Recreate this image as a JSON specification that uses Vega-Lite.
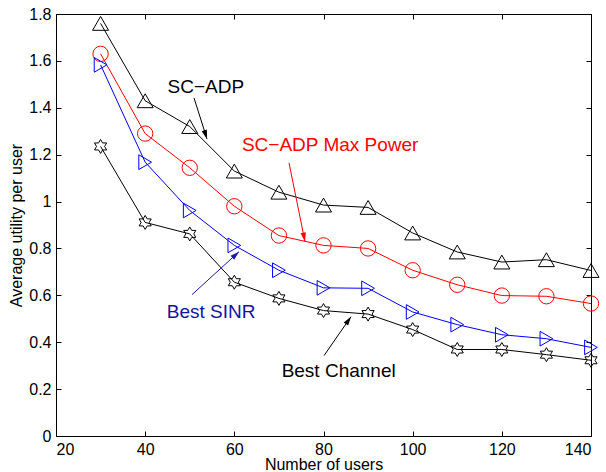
{
  "$schema": "https://vega.github.io/schema/vega-lite/v6.json",
  "width": 535,
  "height": 422,
  "autosize": "none",
  "padding": {"left": 56, "top": 14, "right": 15, "bottom": 36},
  "background": "white",
  "config": {
    "view": {"stroke": null},
    "font": "Liberation Sans",
    "axis": {
      "domainColor": "black",
      "domainWidth": 1,
      "tickColor": "black",
      "tickWidth": 1,
      "tickSize": -5,
      "labelFont": "Liberation Sans",
      "labelFontSize": 16,
      "labelColor": "black",
      "titleFont": "Liberation Sans",
      "titleFontSize": 16,
      "titleFontWeight": "normal",
      "titleColor": "black",
      "grid": false
    }
  },
  "datasets": {
    "series": [
      {"series": "SC−ADP", "users": 30, "utility": 1.76},
      {"series": "SC−ADP", "users": 40, "utility": 1.43},
      {"series": "SC−ADP", "users": 50, "utility": 1.32},
      {"series": "SC−ADP", "users": 60, "utility": 1.13},
      {"series": "SC−ADP", "users": 70, "utility": 1.04},
      {"series": "SC−ADP", "users": 80, "utility": 0.985},
      {"series": "SC−ADP", "users": 90, "utility": 0.975},
      {"series": "SC−ADP", "users": 100, "utility": 0.866},
      {"series": "SC−ADP", "users": 110, "utility": 0.785},
      {"series": "SC−ADP", "users": 120, "utility": 0.742},
      {"series": "SC−ADP", "users": 130, "utility": 0.752},
      {"series": "SC−ADP", "users": 140, "utility": 0.706},
      {"series": "SC−ADP Max Power", "users": 30, "utility": 1.63},
      {"series": "SC−ADP Max Power", "users": 40, "utility": 1.29},
      {"series": "SC−ADP Max Power", "users": 50, "utility": 1.144},
      {"series": "SC−ADP Max Power", "users": 60, "utility": 0.98},
      {"series": "SC−ADP Max Power", "users": 70, "utility": 0.855},
      {"series": "SC−ADP Max Power", "users": 80, "utility": 0.813},
      {"series": "SC−ADP Max Power", "users": 90, "utility": 0.80},
      {"series": "SC−ADP Max Power", "users": 100, "utility": 0.707},
      {"series": "SC−ADP Max Power", "users": 110, "utility": 0.645},
      {"series": "SC−ADP Max Power", "users": 120, "utility": 0.599},
      {"series": "SC−ADP Max Power", "users": 130, "utility": 0.596},
      {"series": "SC−ADP Max Power", "users": 140, "utility": 0.565},
      {"series": "Best SINR", "users": 30, "utility": 1.583},
      {"series": "Best SINR", "users": 40, "utility": 1.168},
      {"series": "Best SINR", "users": 50, "utility": 0.962},
      {"series": "Best SINR", "users": 60, "utility": 0.813},
      {"series": "Best SINR", "users": 70, "utility": 0.707},
      {"series": "Best SINR", "users": 80, "utility": 0.632},
      {"series": "Best SINR", "users": 90, "utility": 0.630},
      {"series": "Best SINR", "users": 100, "utility": 0.529},
      {"series": "Best SINR", "users": 110, "utility": 0.475},
      {"series": "Best SINR", "users": 120, "utility": 0.432},
      {"series": "Best SINR", "users": 130, "utility": 0.415},
      {"series": "Best SINR", "users": 140, "utility": 0.378},
      {"series": "Best Channel", "users": 30, "utility": 1.235},
      {"series": "Best Channel", "users": 40, "utility": 0.911},
      {"series": "Best Channel", "users": 50, "utility": 0.862},
      {"series": "Best Channel", "users": 60, "utility": 0.656},
      {"series": "Best Channel", "users": 70, "utility": 0.587},
      {"series": "Best Channel", "users": 80, "utility": 0.535},
      {"series": "Best Channel", "users": 90, "utility": 0.52},
      {"series": "Best Channel", "users": 100, "utility": 0.454},
      {"series": "Best Channel", "users": 110, "utility": 0.369},
      {"series": "Best Channel", "users": 120, "utility": 0.369},
      {"series": "Best Channel", "users": 130, "utility": 0.347},
      {"series": "Best Channel", "users": 140, "utility": 0.323}
    ],
    "labels": [
      {"label": "SC−ADP", "x": 53.6, "y": 1.489},
      {"label": "SC−ADP Max Power", "x": 81.5, "y": 1.242},
      {"label": "Best SINR", "x": 54.8, "y": 0.527},
      {"label": "Best Channel", "x": 83.4, "y": 0.276}
    ],
    "arrows": [
      {"label": "SC−ADP", "x": 50.96, "y": 1.442, "x2": 53.87, "y2": 1.267, "angle": 162.4},
      {"label": "SC−ADP Max Power", "x": 72.26, "y": 1.165, "x2": 75.85, "y2": 0.829, "angle": 168.6},
      {"label": "Best SINR", "x": 50.5, "y": 0.603, "x2": 61.05, "y2": 0.786, "angle": 47.5},
      {"label": "Best Channel", "x": 80.12, "y": 0.343, "x2": 86.17, "y2": 0.509, "angle": 34.7}
    ]
  },
  "layer": [
    {
      "data": {"name": "series"},
      "mark": {"type": "point", "opacity": 0},
      "encoding": {
        "x": {"field": "users", "type": "quantitative",
              "scale": {"domain": [20, 140], "nice": false, "zero": false},
              "axis": {"orient": "top", "labels": false, "title": null, "values": [20, 40, 60, 80, 100, 120, 140]}},
        "y": {"field": "utility", "type": "quantitative",
              "scale": {"domain": [0, 1.8], "nice": false, "zero": false},
              "axis": {"orient": "right", "labels": false, "title": null, "values": [0, 0.2, 0.4, 0.6, 0.8, 1, 1.2, 1.4, 1.6, 1.8]}}
      }
    },
    {
      "data": {"name": "series"},
      "mark": {"type": "line", "strokeWidth": 1},
      "encoding": {
        "x": {"field": "users", "type": "quantitative",
              "scale": {"domain": [20, 140], "nice": false, "zero": false},
              "axis": {"orient": "bottom", "title": "Number of users", "values": [20, 40, 60, 80, 100, 120, 140], "labelPadding": 10.5, "titlePadding": -1}},
        "y": {"field": "utility", "type": "quantitative",
              "scale": {"domain": [0, 1.8], "nice": false, "zero": false},
              "axis": {"orient": "left", "title": "Average utility per user", "values": [0, 0.2, 0.4, 0.6, 0.8, 1, 1.2, 1.4, 1.6, 1.8], "format": "~g", "labelPadding": 10, "titlePadding": 4}},
        "color": {"field": "series", "type": "nominal", "legend": null,
                  "scale": {"domain": ["SC−ADP", "SC−ADP Max Power", "Best SINR", "Best Channel"], "range": ["#000000", "#ff0000", "#0000ff", "#000000"]}},
        "detail": {"field": "series"}
      }
    },
    {
      "data": {"name": "series"},
      "mark": {"type": "point", "filled": false, "strokeWidth": 1, "opacity": 1},
      "encoding": {
        "x": {"field": "users", "type": "quantitative", "scale": {"domain": [20, 140], "nice": false, "zero": false}, "axis": null},
        "y": {"field": "utility", "type": "quantitative", "scale": {"domain": [0, 1.8], "nice": false, "zero": false}, "axis": null},
        "color": {"field": "series", "type": "nominal", "legend": null,
                  "scale": {"domain": ["SC−ADP", "SC−ADP Max Power", "Best SINR", "Best Channel"], "range": ["#000000", "#ff0000", "#0000ff", "#000000"]}},
        "shape": {"field": "series", "type": "nominal", "legend": null,
                  "scale": {"domain": ["SC−ADP", "SC−ADP Max Power", "Best SINR", "Best Channel"],
                            "range": ["triangle-up", "circle", "triangle-right", "M0,-1L0.289,-0.5L0.866,-0.5L0.577,0L0.866,0.5L0.289,0.5L0,1L-0.289,0.5L-0.866,0.5L-0.577,0L-0.866,-0.5L-0.289,-0.5Z"]}},
        "size": {"field": "series", "type": "nominal", "legend": null,
                 "scale": {"domain": ["SC−ADP", "SC−ADP Max Power", "Best SINR", "Best Channel"], "range": [256, 196, 225, 169]}}
      }
    },
    {
      "data": {"name": "arrows"},
      "mark": {"type": "rule", "strokeWidth": 1},
      "encoding": {
        "x": {"field": "x", "type": "quantitative", "scale": {"domain": [20, 140], "nice": false, "zero": false}, "axis": null},
        "y": {"field": "y", "type": "quantitative", "scale": {"domain": [0, 1.8], "nice": false, "zero": false}, "axis": null},
        "x2": {"field": "x2"},
        "y2": {"field": "y2"},
        "color": {"field": "label", "type": "nominal", "legend": null,
                  "scale": {"domain": ["SC−ADP", "SC−ADP Max Power", "Best SINR", "Best Channel"], "range": ["#000000", "#ff0000", "#1a1aa6", "#000000"]}}
      }
    },
    {
      "data": {"name": "arrows"},
      "mark": {"type": "point", "filled": true, "opacity": 1, "shape": "M0,0L-0.3,1L0.3,1Z", "size": 324},
      "encoding": {
        "x": {"field": "x2", "type": "quantitative", "scale": {"domain": [20, 140], "nice": false, "zero": false}, "axis": null},
        "y": {"field": "y2", "type": "quantitative", "scale": {"domain": [0, 1.8], "nice": false, "zero": false}, "axis": null},
        "angle": {"field": "angle", "type": "quantitative", "scale": null},
        "color": {"field": "label", "type": "nominal", "legend": null,
                  "scale": {"domain": ["SC−ADP", "SC−ADP Max Power", "Best SINR", "Best Channel"], "range": ["#000000", "#ff0000", "#1a1aa6", "#000000"]}}
      }
    },
    {
      "data": {"name": "labels"},
      "mark": {"type": "text", "fontSize": 19, "font": "Liberation Sans", "align": "center", "baseline": "middle"},
      "encoding": {
        "x": {"field": "x", "type": "quantitative", "scale": {"domain": [20, 140], "nice": false, "zero": false}, "axis": null},
        "y": {"field": "y", "type": "quantitative", "scale": {"domain": [0, 1.8], "nice": false, "zero": false}, "axis": null},
        "text": {"field": "label"},
        "color": {"field": "label", "type": "nominal", "legend": null,
                  "scale": {"domain": ["SC−ADP", "SC−ADP Max Power", "Best SINR", "Best Channel"], "range": ["#000000", "#ff0000", "#1414a0", "#000000"]}}
      }
    }
  ],
  "resolve": {"axis": {"x": "independent", "y": "independent"}, "scale": {"color": "independent"}}
}
